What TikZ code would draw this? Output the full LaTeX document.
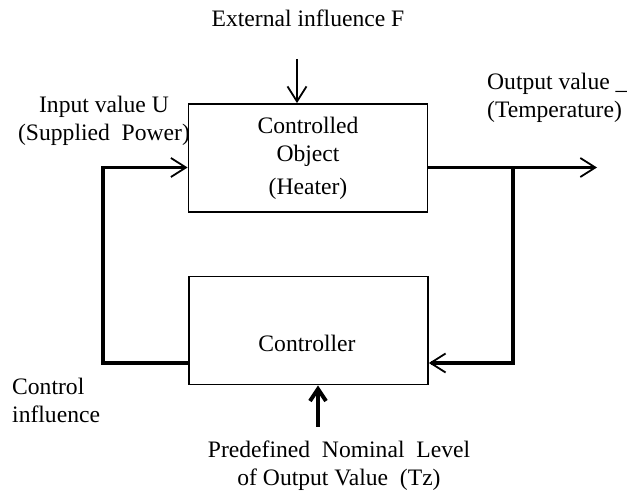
\documentclass[tikz,border=0pt]{standalone}
\usepackage{fontspec}
\setmainfont{Liberation Serif}
\usetikzlibrary{arrows.meta}

\tikzset{
  blk/.style={draw, line width=1.8pt, minimum width=239pt, minimum height=108pt, inner sep=0pt, align=center},
  lbl/.style={inner sep=0pt},
  wire/.style={line width=3.4pt, -{Straight Barb[length=15pt,width=19pt,line width=1.8pt]}},
}

\begin{document}
\begin{tikzpicture}[x=1pt, y=-1pt, font=\fontsize{23.6}{28}\selectfont]
    \useasboundingbox (0,0) rectangle (627,494);
    % blocks
    \node[blk] (obj) at (308,158) {Controlled\\Object\\[5pt](Heater)};
    \node[blk] (ctrl) at (308.5,330.5) {};
    \node[lbl] (ctrltxt) at (307,343) {Controller};
    % labels
    \node[lbl] (ext) at (308,18) {External influence F};
    \node[lbl, align=center] (inlbl) at (104,121) {Input value U\\(Supplied\ \ Power)};
    \node[lbl, align=left, anchor=west] (outlbl) at (487,97.5) {Output value \_\\(Temperature)};
    \node[lbl, align=left, anchor=west] (ctllbl) at (12,400) {Control\\influence};
    \node[lbl, align=center] (reflbl) at (339,466) {Predefined\ \ Nominal\ \ Level\\of Output Value\ \ (Tz)};
    % connector ends
    \coordinate (fin) at (297,59);
    \coordinate (inp) at (103,167.5);
    \coordinate (tap) at (513,167.5);
    \coordinate (out) at (597,167.5);
    \coordinate (fb) at (513,363);
    \coordinate (ref) at (318,427);
    % connectors
    \draw[wire, line width=1.8pt] (fin) -- (fin |- obj.north);
    \draw[wire] (obj.east |- out) -- (out);
    \draw[wire] (tap) |- (ctrl.east |- fb);
    \draw[wire] (ctrl.west |- fb) -| (inp) -- (obj.west |- inp);
    \draw[line width=4pt, -{Straight Barb[length=12pt,width=16pt]}] (ref) -- (ref |- ctrl.south);
\end{tikzpicture}
\end{document}
